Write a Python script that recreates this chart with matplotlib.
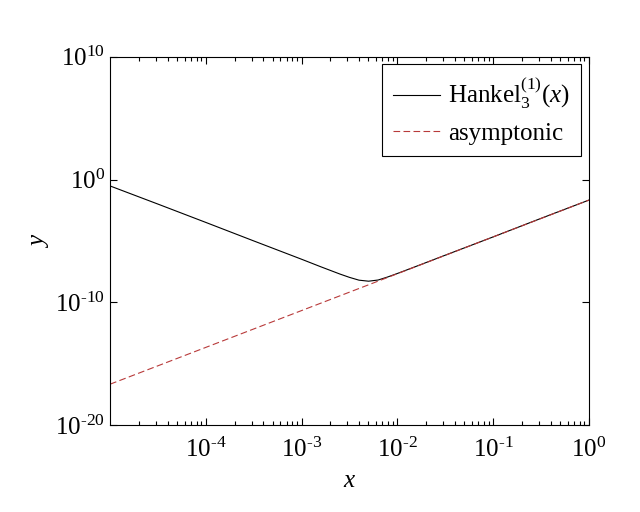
import matplotlib
matplotlib.use('Agg')
import matplotlib.pyplot as plt
from matplotlib.ticker import LogLocator, FuncFormatter, NullFormatter
import numpy as np

plt.rcParams['font.family'] = 'Liberation Serif'
plt.rcParams['mathtext.fontset'] = 'custom'
plt.rcParams['mathtext.rm'] = 'Liberation Serif'
plt.rcParams['mathtext.it'] = 'Liberation Serif:italic'

# values
x_hankel = [1e-5, 3.16e-5, 1e-4, 3.16e-4, 1e-3, 1.58e-3, 2.51e-3, 3.16e-3,
            3.98e-3, 5.01e-3, 6.31e-3, 7.94e-3, 1e-2, 1.58e-2, 3.16e-2,
            1e-1, 3.16e-1, 1.0]
y_hankel = [3.0e-1, 1.0e-2, 3.2e-4, 1.0e-5, 3.2e-7, 7.9e-8, 2.0e-8, 1.07e-8,
            6.3e-9, 5.2e-9, 6.5e-9, 1.15e-8, 2.2e-8, 8.5e-8, 6.8e-7,
            2.1e-5, 6.8e-4, 2.1e-2]

x_asym = [1e-5, 1e-4, 1e-3, 1e-2, 1e-1, 1.0]
y_asym = [2.1e-17, 2.1e-14, 2.1e-11, 2.1e-8, 2.1e-5, 2.1e-2]

x_ticks = [1e-4, 1e-3, 1e-2, 1e-1, 1e0]
y_ticks = [1e-20, 1e-10, 1e0, 1e10]


def pow_label(v, pos):
    e = int(round(np.log10(v)))
    if e < 0:
        return r'$10^{\text{-}%d}$' % (-e)
    return r'$10^{%d}$' % e


fig = plt.figure(figsize=(6.4, 5.12), dpi=100)
ax = fig.add_axes([0.172, 0.170, 0.748, 0.719])

ax.loglog(x_hankel, y_hankel, color='black', lw=0.8,
          label=r'Hankel$_3^{(1)}(x)$')
ax.loglog(x_asym, y_asym, color='#b83a3a', lw=0.8, dashes=(6, 3),
          label='asymptonic')

ax.set_xlim(1e-5, 1)
ax.set_ylim(1e-20, 1e10)

ax.set_xticks(x_ticks)
ax.xaxis.set_major_formatter(FuncFormatter(pow_label))
ax.xaxis.set_minor_locator(LogLocator(base=10, subs=range(2, 10), numticks=20))
ax.xaxis.set_minor_formatter(NullFormatter())
ax.set_yticks(y_ticks)
ax.yaxis.set_minor_locator(plt.NullLocator())
ax.yaxis.set_major_formatter(FuncFormatter(pow_label))

ax.tick_params(which='both', direction='in', top=True, right=True,
               labelsize=18, width=0.8)
ax.tick_params(which='major', length=5)
ax.tick_params(which='minor', length=3)
ax.tick_params(axis='x', pad=9)

for s in ax.spines.values():
    s.set_linewidth(0.8)

ax.set_xlabel(r'$x$', fontsize=18, labelpad=6)
ax.set_ylabel(r'$y$', fontsize=18, labelpad=3)

leg = ax.legend(loc='upper right', fontsize=18, fancybox=False,
                edgecolor='black', framealpha=1, borderaxespad=0.3,
                handlelength=1.9, handletextpad=0.3, labelspacing=0.45,
                borderpad=0.45)
leg.get_frame().set_linewidth(0.8)

fig.savefig('out.png', dpi=100)
plt.close(fig)
